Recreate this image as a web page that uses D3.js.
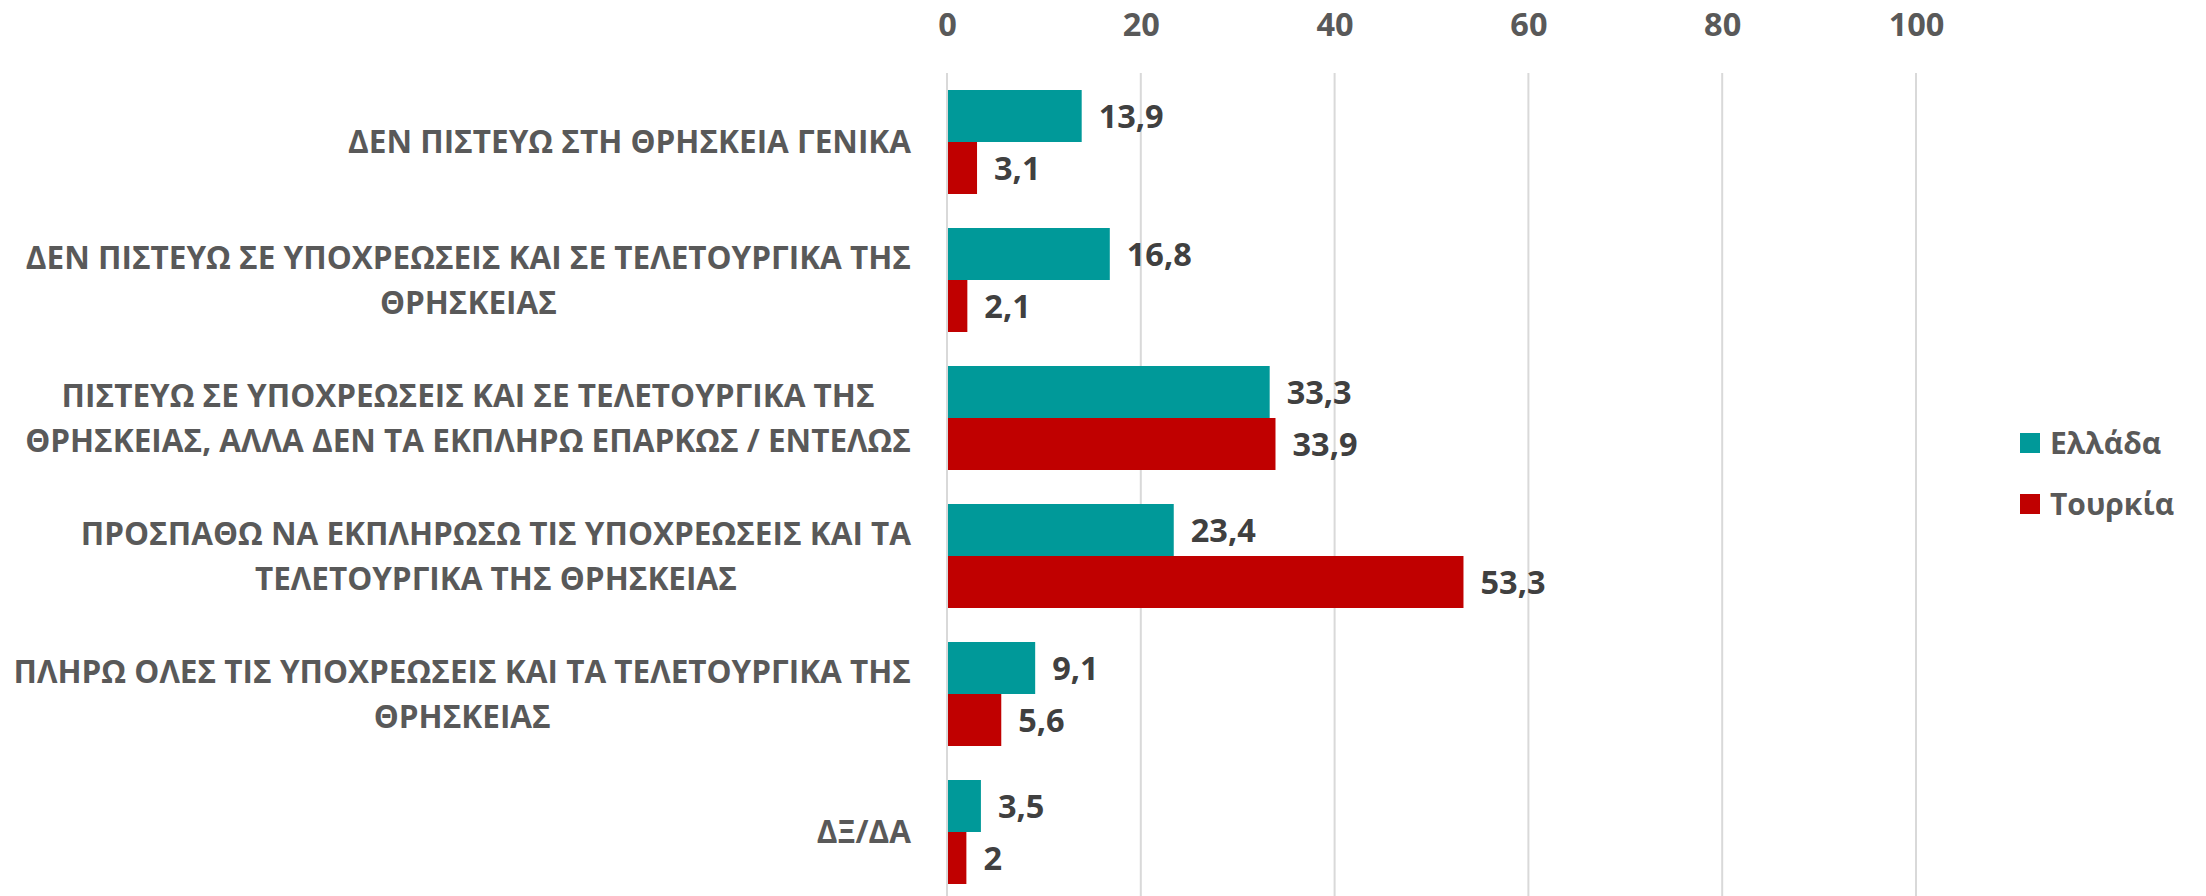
<!DOCTYPE html>
<html>
<head>
<meta charset="utf-8">
<script src="https://cdn.jsdelivr.net/npm/d3@7"></script>
<style>
  html, body { margin: 0; padding: 0; background: #ffffff; }
  svg { display: block; font-family: "Open Sans", "Noto Sans", sans-serif; }
</style>
</head>
<body>
<svg id="chart" width="2206" height="896"></svg>
<script>
// Answers (one entry per row, "\n" marks a line break in the label)
const categories = [
  "ΔΕΝ ΠΙΣΤΕΥΩ ΣΤΗ ΘΡΗΣΚΕΙΑ ΓΕΝΙΚΑ",
  "ΔΕΝ ΠΙΣΤΕΥΩ ΣΕ ΥΠΟΧΡΕΩΣΕΙΣ ΚΑΙ ΣΕ ΤΕΛΕΤΟΥΡΓΙΚΑ ΤΗΣ\nΘΡΗΣΚΕΙΑΣ",
  "ΠΙΣΤΕΥΩ ΣΕ ΥΠΟΧΡΕΩΣΕΙΣ ΚΑΙ ΣΕ ΤΕΛΕΤΟΥΡΓΙΚΑ ΤΗΣ\nΘΡΗΣΚΕΙΑΣ, ΑΛΛΑ ΔΕΝ ΤΑ ΕΚΠΛΗΡΩ ΕΠΑΡΚΩΣ / ΕΝΤΕΛΩΣ",
  "ΠΡΟΣΠΑΘΩ ΝΑ ΕΚΠΛΗΡΩΣΩ ΤΙΣ ΥΠΟΧΡΕΩΣΕΙΣ ΚΑΙ ΤΑ\nΤΕΛΕΤΟΥΡΓΙΚΑ ΤΗΣ ΘΡΗΣΚΕΙΑΣ",
  "ΠΛΗΡΩ ΟΛΕΣ ΤΙΣ ΥΠΟΧΡΕΩΣΕΙΣ ΚΑΙ ΤΑ ΤΕΛΕΤΟΥΡΓΙΚΑ ΤΗΣ\nΘΡΗΣΚΕΙΑΣ",
  "ΔΞ/ΔΑ"
];
const seriesNames = ["Ελλάδα", "Τουρκία"];
const greece = [13.9, 16.8, 33.3, 23.4, 9.1, 3.5];
const turkey = [3.1, 2.1, 33.9, 53.3, 5.6, 2];
const xTicks = [0, 20, 40, 60, 80, 100];
const seriesColors = ["#009999", "#C00000"];

const seriesValues = [greece, turkey];
const rows = categories.map((c, i) => ({
  category: c,
  values: seriesNames.map((s, k) => ({ series: s, value: seriesValues[k][i] }))
}));

const svg = d3.select("#chart");

const x = d3.scaleLinear().domain([0, 100]).range([947, 1916]);
const y = d3.scaleBand()
  .domain(categories)
  .range([73, 901])
  .paddingInner(34 / 138)
  .paddingOuter(17 / 138);
const ySub = d3.scaleBand().domain(seriesNames).range([0, y.bandwidth()]);
const color = d3.scaleOrdinal().domain(seriesNames).range(seriesColors);

// Vertical gridlines
svg.append("g")
  .selectAll("line")
  .data(xTicks)
  .join("line")
  .attr("x1", d => x(d)).attr("x2", d => x(d))
  .attr("y1", 73).attr("y2", 896)
  .attr("stroke", "#d9d9d9")
  .attr("stroke-width", 2);

// Top value axis (labels only)
const xAxis = svg.append("g")
  .attr("transform", "translate(0,73)")
  .call(d3.axisTop(x).tickValues(xTicks).tickSize(0).tickPadding(37).tickFormat(d3.format("d")));
xAxis.select(".domain").remove();
xAxis.selectAll("text")
  .attr("fill", "#595959")
  .style("font-size", "32.5px")
  .style("font-weight", 700)
  .style("font-family", "'Open Sans', sans-serif");

// Bars
const groups = svg.append("g")
  .selectAll("g")
  .data(rows)
  .join("g")
  .attr("transform", d => `translate(0,${y(d.category)})`);

groups.selectAll("rect")
  .data(d => d.values)
  .join("rect")
  .attr("x", x(0))
  .attr("y", d => ySub(d.series))
  .attr("width", d => x(d.value) - x(0))
  .attr("height", ySub.bandwidth())
  .attr("fill", d => color(d.series));

// Value labels
groups.selectAll("text")
  .data(d => d.values)
  .join("text")
  .attr("x", d => x(d.value) + 17)
  .attr("y", d => ySub(d.series) + ySub.bandwidth() / 2)
  .attr("dy", "0.36em")
  .attr("fill", "#404040")
  .style("font-size", "32.5px")
  .style("font-weight", 700)
  .text(d => String(d.value).replace(".", ","));

// Category axis line
svg.append("line")
  .attr("x1", x(0)).attr("x2", x(0))
  .attr("y1", 73).attr("y2", 896)
  .attr("stroke", "#d9d9d9")
  .attr("stroke-width", 2);

// Category labels: right-aligned block, lines centred within it
const labelRight = 911;
const lineGap = 45;
const labels = svg.append("g")
  .selectAll("g")
  .data(categories)
  .join("g");

labels.each(function (c) {
  const g = d3.select(this);
  const lines = c.split("\n");
  const cy = y(c) + y.bandwidth() / 2;
  const texts = g.selectAll("text")
    .data(lines)
    .join("text")
    .attr("y", (l, i) => cy + (i - (lines.length - 1) / 2) * lineGap)
    .attr("dy", "0.36em")
    .attr("text-anchor", "middle")
    .attr("fill", "#595959")
    .style("font-size", "31.5px")
    .style("font-weight", 700)
    .text(l => l);
  let maxW = 0;
  texts.each(function () { maxW = Math.max(maxW, this.getComputedTextLength()); });
  texts.attr("x", labelRight - maxW / 2);
});

// Legend
const legend = svg.append("g")
  .selectAll("g")
  .data(seriesNames)
  .join("g")
  .attr("transform", (d, i) => `translate(2020,${433 + i * 61})`);

legend.append("rect")
  .attr("width", 20).attr("height", 20)
  .attr("fill", d => color(d));

legend.append("text")
  .attr("x", 30).attr("y", 10)
  .attr("dy", "0.36em")
  .attr("fill", "#595959")
  .style("font-size", "30px")
  .style("font-weight", 700)
  .text(d => d);
</script>
</body>
</html>
